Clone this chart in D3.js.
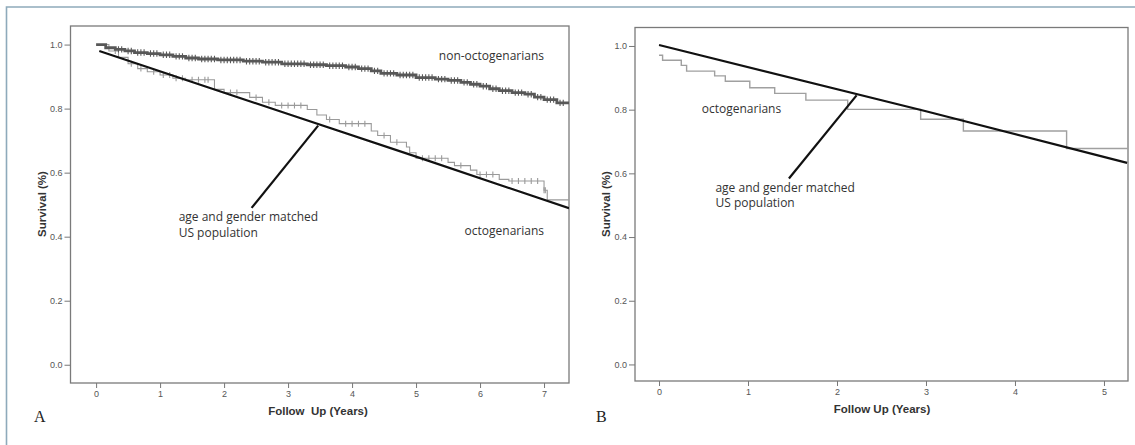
<!DOCTYPE html>
<html>
<head>
<meta charset="utf-8">
<script src="https://cdn.jsdelivr.net/npm/d3@7"></script>
<style>
  body { margin: 0; background: #fff; }
  svg { display: block; }
  .tick text { font-family: "Liberation Sans", Arial, sans-serif; font-size: 9px; fill: #555; }
  .tick line { stroke: #777; }
  .axis-title { font-family: "Liberation Sans", Arial, sans-serif; font-weight: bold; font-size: 11.5px; fill: #333; }
  .note { font-family: "Open Sans", "Noto Sans", sans-serif; font-size: 12px; fill: #333; }
  .panel-letter { font-family: "Liberation Serif", "DejaVu Serif", serif; font-size: 16px; fill: #222; }
</style>
</head>
<body>
<div id="chart"></div>
<script>
// ---- panel A data ----
// non-octogenarians Kaplan-Meier steps
const nonOctoTimes = [0, 0.15, 0.3, 0.45, 0.6, 0.8, 1.0, 1.2, 1.4, 1.6, 1.9, 2.3, 2.6, 2.9, 3.3, 3.6, 3.9, 4.1, 4.3, 4.45, 4.7, 5.0, 5.3, 5.5, 5.7, 5.85, 6.0, 6.15, 6.3, 6.5, 6.7, 6.85, 7.0, 7.2];
const nonOctoSurv = [1.0, 0.99, 0.985, 0.98, 0.975, 0.972, 0.968, 0.963, 0.958, 0.955, 0.952, 0.948, 0.945, 0.94, 0.937, 0.934, 0.93, 0.925, 0.918, 0.91, 0.905, 0.897, 0.892, 0.888, 0.882, 0.876, 0.87, 0.862, 0.856, 0.85, 0.845, 0.836, 0.828, 0.818];
const nonOctoCensored = [0.35, 0.4, 0.5, 0.55, 0.65, 0.7, 0.75, 0.85, 0.9, 0.95, 1.05, 1.1, 1.15, 1.25, 1.3, 1.35, 1.45, 1.5, 1.55, 1.65, 1.7, 1.75, 1.8, 1.85, 1.95, 2.0, 2.05, 2.1, 2.15, 2.2, 2.25, 2.35, 2.4, 2.45, 2.5, 2.55, 2.65, 2.7, 2.75, 2.8, 2.85, 2.95, 3.0, 3.05, 3.1, 3.15, 3.2, 3.25, 3.35, 3.4, 3.45, 3.5, 3.55, 3.65, 3.7, 3.75, 3.8, 3.85, 3.95, 4.0, 4.05, 4.15, 4.2, 4.25, 4.35, 4.4, 4.5, 4.55, 4.6, 4.65, 4.75, 4.8, 4.85, 4.9, 4.95, 5.05, 5.1, 5.15, 5.2, 5.25, 5.35, 5.4, 5.45, 5.55, 5.6, 5.65, 5.75, 5.8, 5.9, 5.95, 6.05, 6.1, 6.2, 6.25, 6.35, 6.4, 6.45, 6.55, 6.6, 6.65, 6.75, 6.8, 6.9, 6.95, 7.05, 7.1, 7.15, 7.25, 7.3];
// octogenarians Kaplan-Meier steps
const octoTimesA = [0.05, 0.2, 0.35, 0.5, 0.65, 0.8, 1.0, 1.2, 1.4, 1.85, 2.0, 2.4, 2.6, 2.8, 3.3, 3.45, 3.6, 3.8, 4.3, 4.4, 4.6, 4.85, 4.9, 5.0, 5.5, 5.6, 5.85, 5.95, 6.3, 6.45, 7.0, 7.05];
const octoSurvA = [1.0, 0.98, 0.96, 0.94, 0.925, 0.915, 0.905, 0.895, 0.89, 0.86, 0.85, 0.835, 0.82, 0.81, 0.797, 0.78, 0.766, 0.753, 0.73, 0.716, 0.695, 0.68, 0.662, 0.645, 0.632, 0.622, 0.608, 0.594, 0.579, 0.574, 0.545, 0.515];
const octoCensoredA = [0.3, 0.55, 0.7, 0.9, 1.05, 1.15, 1.25, 1.35, 1.5, 1.6, 1.7, 1.75, 2.1, 2.2, 2.5, 2.7, 2.9, 3.0, 3.1, 3.2, 3.65, 3.9, 4.0, 4.1, 4.2, 4.5, 4.7, 5.1, 5.2, 5.3, 5.4, 5.7, 6.0, 6.1, 6.2, 6.5, 6.6, 6.7, 6.8, 6.9, 7.0, 7.02];
// expected survival, age and gender matched US population
const usTimesA = [0.05, 3, 5, 7.39];
const usSurvA = [0.98, 0.783, 0.65, 0.489];

// ---- panel B data ----
const octoTimesB = [0, 0.04, 0.25, 0.31, 0.625, 0.745, 1.02, 1.3, 1.65, 2.12, 2.94, 3.42, 4.58];
const octoSurvB = [0.971, 0.955, 0.939, 0.921, 0.906, 0.889, 0.869, 0.851, 0.83, 0.801, 0.77, 0.733, 0.678];
const usTimesB = [0, 3, 5.26];
const usSurvB = [1.003, 0.795, 0.633];

const yTicks = [0, 0.2, 0.4, 0.6, 0.8, 1.0];
const xTicksA = [0, 1, 2, 3, 4, 5, 6, 7];
const xTicksB = [0, 1, 2, 3, 4, 5];

const width = 1135, height = 445;

const svg = d3.select('#chart').append('svg')
    .attr('width', width)
    .attr('height', height);

// outer frame (top and left edge of the figure box)
svg.append('path')
    .attr('d', 'M6.5,445 L6.5,7 L1135,7')
    .attr('fill', 'none')
    .attr('stroke', '#8eaabb')
    .attr('stroke-width', 1.6);

function zip(ts, ss) {
    return ts.map((t, i) => ({t: t, s: ss[i]}));
}

function drawPanel(opt) {
    const x = d3.scaleLinear().domain(opt.xDomain).range([opt.left, opt.right]);
    const y = d3.scaleLinear().domain(opt.yDomain).range([opt.bottom, opt.top]);
    const g = svg.append('g');

    const clipId = 'clip' + opt.letter;
    svg.append('clipPath').attr('id', clipId)
        .append('rect')
        .attr('x', opt.left).attr('y', opt.top)
        .attr('width', opt.right - opt.left).attr('height', opt.bottom - opt.top);

    // axes
    g.append('g')
        .attr('transform', 'translate(0,' + opt.bottom + ')')
        .call(d3.axisBottom(x).tickValues(opt.xTicks).tickSize(5).tickPadding(3).tickFormat(d3.format('d')))
        .call(a => a.select('.domain').remove());
    g.append('g')
        .attr('transform', 'translate(' + opt.left + ',0)')
        .call(d3.axisLeft(y).tickValues(yTicks).tickSize(6).tickPadding(2).tickFormat(d3.format('.1f')))
        .call(a => a.select('.domain').remove());

    // frame
    g.append('rect')
        .attr('x', opt.left).attr('y', opt.top)
        .attr('width', opt.right - opt.left).attr('height', opt.bottom - opt.top)
        .attr('fill', 'none')
        .attr('stroke', '#7a7a7a')
        .attr('stroke-width', 1.3);

    const plot = g.append('g').attr('clip-path', 'url(#' + clipId + ')');

    const step = d3.line().x(d => x(d.t)).y(d => y(d.s)).curve(d3.curveStepAfter);
    const straight = d3.line().x(d => x(d.t)).y(d => y(d.s));

    opt.curves.forEach(c => {
        const pts = zip(c.times, c.surv);
        pts.push({t: opt.xDomain[1], s: c.surv[c.surv.length - 1]});
        plot.append('path')
            .datum(pts)
            .attr('d', step)
            .attr('fill', 'none')
            .attr('stroke', c.color)
            .attr('stroke-width', c.width);
        if (c.censored) {
            // censor marks sit on the curve value at that time
            const bis = d3.bisector(d => d.t).right;
            plot.selectAll(null)
                .data(c.censored)
                .join('line')
                .attr('x1', d => x(d)).attr('x2', d => x(d))
                .attr('y1', d => y(c.surv[Math.max(0, bis(pts, d) - 1)]) - c.tick)
                .attr('y2', d => y(c.surv[Math.max(0, bis(pts, d) - 1)]) + c.tick)
                .attr('stroke', c.color)
                .attr('stroke-width', 1.1);
        }
    });

    // US population expected survival
    plot.append('path')
        .datum(zip(opt.usTimes, opt.usSurv))
        .attr('d', straight)
        .attr('fill', 'none')
        .attr('stroke', '#111')
        .attr('stroke-width', 2.2);

    // pointer from label to the population line
    g.append('line')
        .attr('x1', x(opt.pointer[0][0])).attr('y1', y(opt.pointer[0][1]))
        .attr('x2', x(opt.pointer[1][0])).attr('y2', y(opt.pointer[1][1]))
        .attr('stroke', '#111')
        .attr('stroke-width', 2.2);

    // annotations
    opt.notes.forEach(n => {
        g.append('text')
            .attr('class', 'note')
            .attr('x', x(n.x)).attr('y', y(n.y))
            .attr('text-anchor', n.anchor)
            .attr('dominant-baseline', 'central')
            .text(n.text);
    });

    // axis titles
    g.append('text')
        .attr('class', 'axis-title')
        .attr('transform', 'translate(' + opt.yTitleX + ',204) rotate(-90)')
        .attr('text-anchor', 'middle')
        .text('Survival (%)');
    g.append('text')
        .attr('class', 'axis-title')
        .attr('x', opt.xTitleX).attr('y', opt.bottom + 32)
        .attr('text-anchor', 'middle')
        .text(opt.xTitle);

    g.append('text')
        .attr('class', 'panel-letter')
        .attr('x', opt.letterX).attr('y', 422)
        .text(opt.letter);
}

drawPanel({
    letter: 'A', letterX: 34,
    left: 70.5, right: 569, top: 26, bottom: 383,
    xDomain: [-0.4, 7.39], yDomain: [-0.057, 1.058],
    xTicks: xTicksA,
    yTitleX: 46, xTitleX: 318, xTitle: 'Follow\u00a0\u00a0Up (Years)',
    curves: [
        {times: octoTimesA, surv: octoSurvA, censored: octoCensoredA, color: '#9a9a9a', width: 1.1, tick: 3},
        {times: nonOctoTimes, surv: nonOctoSurv, censored: nonOctoCensored, color: '#585858', width: 2.8, tick: 3.2}
    ],
    usTimes: usTimesA, usSurv: usSurvA,
    pointer: [[2.43, 0.49], [3.47, 0.747]],
    notes: [
        {text: 'non-octogenarians', x: 7.0, y: 0.965, anchor: 'end'},
        {text: 'octogenarians', x: 7.0, y: 0.42, anchor: 'end'},
        {text: 'age and gender matched', x: 1.29, y: 0.463, anchor: 'start'},
        {text: 'US population', x: 1.29, y: 0.414, anchor: 'start'}
    ]
});

drawPanel({
    letter: 'B', letterX: 596,
    left: 635, right: 1128, top: 27.5, bottom: 381,
    xDomain: [-0.27, 5.27], yDomain: [-0.052, 1.058],
    xTicks: xTicksB,
    yTitleX: 610, xTitleX: 882, xTitle: 'Follow Up (Years)',
    curves: [
        {times: octoTimesB, surv: octoSurvB, color: '#a0a0a0', width: 1.4}
    ],
    usTimes: usTimesB, usSurv: usSurvB,
    pointer: [[1.46, 0.584], [2.22, 0.845]],
    notes: [
        {text: 'octogenarians', x: 0.48, y: 0.803, anchor: 'start'},
        {text: 'age and gender matched', x: 0.634, y: 0.557, anchor: 'start'},
        {text: 'US population', x: 0.634, y: 0.508, anchor: 'start'}
    ]
});
</script>
</body>
</html>
